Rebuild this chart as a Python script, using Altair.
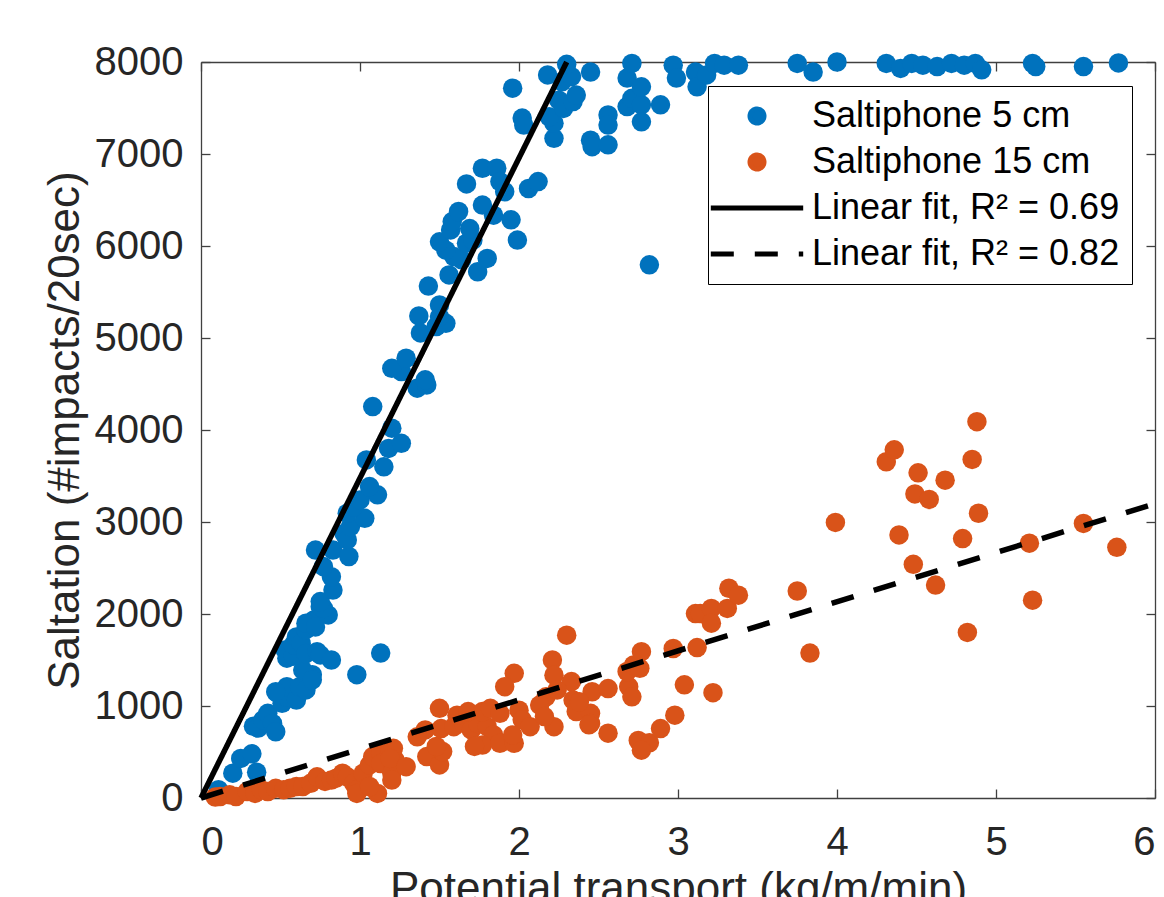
import altair as alt
import pandas as pd

# ---------------- data ----------------
series_names = ["Saltiphone 5 cm", "Saltiphone 15 cm",
                "Linear fit, R² = 0.69", "Linear fit, R² = 0.82"]

blue_x = [0.11, 0.20, 0.25, 0.32, 0.35, 0.33, 0.36, 0.39, 0.42, 0.45, 0.47, 0.48, 0.51, 0.54, 0.54,
          0.47, 0.60, 0.65, 0.62, 0.66, 0.70, 0.64, 0.70, 0.98, 1.13, 0.53, 0.54, 0.58, 0.58, 0.60,
          0.63, 0.66, 0.73, 0.75, 0.82, 0.66, 0.71, 0.66, 0.72, 0.75, 0.80, 0.77, 0.75, 0.83, 0.82,
          0.77, 0.72, 0.83, 0.93, 0.90, 0.92, 0.94, 1.03, 0.92, 0.96, 1.00, 1.11, 1.06, 1.04, 1.15,
          1.18, 1.26, 1.20, 1.08, 1.36, 1.42, 1.41, 1.26, 1.20, 1.29, 1.38, 1.48, 1.54, 1.50, 1.37,
          1.50, 1.43, 1.56, 1.74, 1.80, 1.64, 1.59, 1.54, 1.50, 1.67, 1.71, 1.69, 1.57, 1.58, 1.62,
          1.84, 1.95, 1.99, 1.77, 1.67, 2.06, 2.12, 1.77, 1.86, 1.88, 1.91, 1.96, 2.02, 2.03, 2.22,
          2.22, 2.19, 2.25, 2.28, 2.34, 2.36, 2.18, 2.27, 2.33, 2.30, 2.45, 2.45, 2.46, 2.56, 2.56,
          2.56, 2.68, 2.71, 2.77, 2.77, 2.68, 2.77, 2.71, 2.89, 2.82, 2.97, 2.99, 3.11, 3.12, 3.18,
          3.23, 3.29, 3.38, 3.75, 3.85, 4.00, 4.31, 4.40, 4.47, 4.54, 4.63, 4.72, 4.80, 4.87, 4.91,
          5.23, 5.25, 5.55, 5.77]
blue_y = [90, 270, 430, 480, 280, 780, 760, 850, 920, 810, 720, 1140, 1030, 1100, 1210,
          1155, 1065, 1210, 1210, 1175, 1340, 1390, 1285, 1340, 1575, 1610, 1520, 1540, 1665, 1750,
          1680, 1570, 1590, 1555, 1500, 1830, 1935, 1900, 1860, 2080, 1990, 2060, 2135, 2260, 2405,
          2515, 2695, 2695, 2625, 2875, 2805, 2950, 3040, 3095, 3165, 3240, 3295, 3385, 3675, 3600,
          3800, 3855, 4020, 4255, 4455, 4490, 4545, 4635, 4670, 4780, 5055, 5125, 5160, 5230, 5240,
          5360, 5565, 5685, 5720, 5865, 5850, 5885, 5955, 6045, 6030, 6065, 6190, 6175, 6265, 6375,
          6335, 6285, 6065, 6445, 6675, 6625, 6700, 6845, 6845, 6700, 6590, 7715, 7390, 7315, 7170,
          7335, 7405, 7585, 7495, 7570, 7640, 7860, 7785, 7840, 7975, 7890, 7150, 7080, 7425, 7315,
          7100, 7515, 7605, 7535, 7350, 7825, 7730, 7985, 7535, 5795, 7965, 7825, 7890, 7730, 7860,
          7985, 7965, 7965, 7985, 7890, 8000, 7985, 7930, 7985, 7965, 7950, 7985, 7965, 7985, 7915,
          7985, 7950, 7950, 7990]

orange_x = [0.09, 0.12, 0.18, 0.22, 0.29, 0.34, 0.38, 0.42, 0.47, 0.52, 0.56, 0.60, 0.64, 0.69, 0.73,
            0.78, 0.82, 0.85, 0.89, 0.92, 0.96, 0.98, 0.98, 1.02, 1.06, 1.08, 1.13, 1.19, 1.13, 1.11,
            1.06, 1.22, 1.20, 1.20, 1.21, 1.19, 1.29, 1.42, 1.50, 1.52, 1.48, 1.41, 1.36, 1.51, 1.59,
            1.65, 1.70, 1.74, 1.80, 1.84, 1.77, 1.72, 1.88, 1.97, 1.50, 1.61, 1.68, 1.77, 1.82, 1.88,
            2.00, 2.02, 2.07, 1.96, 1.97, 1.91, 2.30, 2.21, 2.22, 2.33, 2.17, 2.13, 2.24, 2.34, 2.46,
            2.36, 2.45, 2.22, 2.16, 2.45, 2.56, 2.38, 2.44, 2.56, 2.75, 2.82, 2.77, 2.89, 2.98, 2.69,
            2.71, 2.68, 2.72, 2.76, 2.77, 2.97, 3.12, 3.04, 3.22, 3.11, 3.14, 3.21, 3.31, 3.21, 3.32,
            3.38, 3.75, 3.83, 3.99, 4.31, 4.36, 4.39, 4.48, 4.49, 4.51, 4.58, 4.62, 4.68, 4.79, 4.82,
            4.85, 4.88, 4.89, 5.21, 5.23, 5.55, 5.76]
orange_y = [10, 15, 35, 15, 70, 50, 90, 70, 105, 90, 105, 125, 125, 160, 230,
            180, 195, 215, 270, 230, 160, 90, 50, 270, 360, 450, 485, 505, 375, 50,
            125, 415, 270, 195, 540, 430, 340, 450, 360, 505, 560, 740, 665, 755, 775,
            810, 740, 810, 775, 685, 575, 560, 595, 595, 975, 900, 940, 940, 975, 920,
            955, 850, 775, 685, 1355, 1210, 1770, 1500, 1335, 1265, 1100, 1010, 1175, 1065, 1155,
            940, 920, 775, 885, 810, 1190, 1045, 795, 705, 625, 600, 520, 755, 900, 1210,
            1100, 1375, 1445, 1410, 1590, 1625, 1635, 1230, 1145, 2005, 2005, 2060, 2060, 1900, 2280,
            2205, 2250, 1575, 2995, 3655, 3785, 2860, 2540, 3305, 3535, 3245, 2315, 3455, 2820, 1800,
            3680, 4090, 3095, 2770, 2150, 2985, 2725]

# linear fits (end points)
fit_x = [0.0, 2.3, 0.0, 6.0]
fit_y = [0, 8000, 0, 3200]

x_ticks = [0, 1, 2, 3, 4, 5, 6]
y_ticks = [0, 1000, 2000, 3000, 4000, 5000, 6000, 7000, 8000]

# ---------------- tables ----------------
pts = pd.DataFrame({
    "x": blue_x + orange_x,
    "y": blue_y + orange_y,
    "series": [series_names[0]] * len(blue_x) + [series_names[1]] * len(orange_x),
})
fits = pd.DataFrame({
    "x": fit_x,
    "y": fit_y,
    "series": [series_names[2]] * 2 + [series_names[3]] * 2,
})

# ---------------- styling ----------------
FONT = "Liberation Sans"
W, H = 954, 736
AX = "#404040"
TXT = "#262626"
BLUE, ORANGE = "#0072BD", "#D95319"
LINE_PATH = "M-6.6,0L6.6,0"

xs = alt.Scale(domain=[0, 6], nice=False, zero=False)
ys = alt.Scale(domain=[0, 8000], nice=False)
color_scale = alt.Scale(domain=series_names, range=[BLUE, ORANGE, "#000000", "#000000"])
shape_scale = alt.Scale(domain=series_names, range=["circle", "circle", LINE_PATH, LINE_PATH])
dash_scale = alt.Scale(domain=series_names, range=[[1, 0], [1, 0], [1, 0], [23, 21]])

legend = alt.Legend(
    title=None, orient="none", legendX=507, legendY=24,
    labelFont=FONT, labelFontSize=36, labelColor="#000000", labelLimit=700,
    symbolSize=196, symbolStrokeWidth=5, padding=12, rowPadding=10,
    labelOffset=37, symbolOffset=19,
    strokeColor="#000000", fillColor="#ffffff",
)

x_main = alt.Axis(orient="bottom", values=x_ticks, format="d", grid=False,
                  domain=False, ticks=False, tickSize=0, labelPadding=24,
                  labelFont=FONT, labelFontSize=40, labelColor=TXT,
                  title="Potential transport (kg/m/min)", titleFont=FONT, titleFontSize=44,
                  titleFontWeight="normal", titleColor=TXT, titleY=104,
                  titleBaseline="alphabetic")
y_main = alt.Axis(orient="left", values=y_ticks, format="d", grid=False,
                  domain=False, ticks=False, tickSize=0, labelPadding=18,
                  labelFont=FONT, labelFontSize=40, labelColor=TXT,
                  title="Saltation (#impacts/20sec)", titleFont=FONT, titleFontSize=44,
                  titleFontWeight="normal", titleColor=TXT, titleAngle=270,
                  titleX=-123, titleY=H / 2, titleBaseline="alphabetic", titleAlign="center")


def frame_axis(orient, offset, values):
    return alt.Axis(orient=orient, offset=offset, values=values, grid=False, labels=False,
                    title=None, domain=True, domainColor=AX, domainWidth=1.3,
                    ticks=True, tickSize=9, tickColor=AX, tickWidth=1.3)


points = alt.Chart(pts).mark_point(filled=True, size=380, opacity=1, strokeWidth=5).encode(
    x=alt.X("x:Q", scale=xs, axis=x_main),
    y=alt.Y("y:Q", scale=ys, axis=y_main),
    color=alt.Color("series:N", scale=color_scale, legend=legend),
    shape=alt.Shape("series:N", scale=shape_scale, legend=legend),
)

lines = alt.Chart(fits).mark_line(strokeWidth=5.5).encode(
    x=alt.X("x:Q", scale=xs, axis=frame_axis("top", -H, x_ticks)),
    y=alt.Y("y:Q", scale=ys, axis=frame_axis("right", -W, y_ticks)),
    color=alt.Color("series:N", scale=color_scale, legend=legend),
    strokeDash=alt.StrokeDash("series:N", scale=dash_scale, legend=legend),
)

frame = alt.Chart(fits).mark_line(opacity=0).encode(
    x=alt.X("x:Q", scale=xs, axis=frame_axis("bottom", -H, x_ticks)),
    y=alt.Y("y:Q", scale=ys, axis=frame_axis("left", -W, y_ticks)),
)

chart = alt.layer(points, lines, frame).resolve_axis(
    x="independent", y="independent"
).properties(
    width=W, height=H,
    autosize=alt.AutoSizeParams(type="none"),
    padding={"left": 201, "top": 62, "right": 9, "bottom": 99},
    background="#ffffff",
).configure_view(stroke=None)

chart.save("out.html", embed_options={"renderer": "svg", "actions": False})
